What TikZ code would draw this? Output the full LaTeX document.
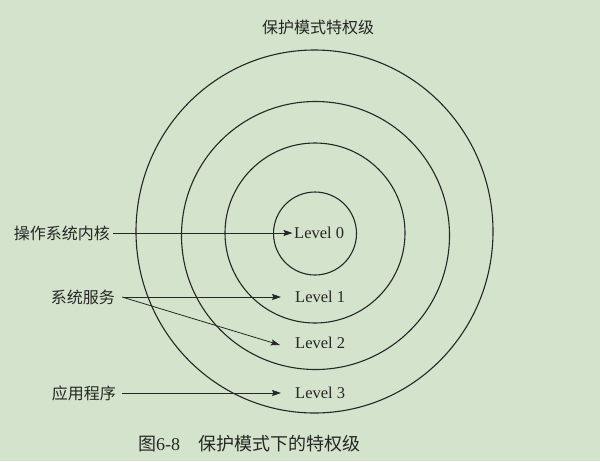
\documentclass[tikz,border=0pt]{standalone}
\usepackage{fontspec}
\setmainfont{Liberation Serif}
\newfontfamily\cjk{Noto Sans CJK SC}
\usepackage{tikz}
\usetikzlibrary{arrows.meta}

\definecolor{fundo}{RGB}{212,228,204}
\definecolor{tinta}{RGB}{38,38,38}

\begin{document}
\begin{tikzpicture}[x=1pt, y=-1pt,
	anel/.style={draw=tinta, line width=1.1pt},
	seta/.style={draw=tinta, line width=0.8pt, -{Stealth[length=9pt, width=6pt, inset=1.5pt]}},
	rotulo/.style={text=tinta, inner sep=0pt, font=\cjk\fontsize{16}{18}\selectfont},
	nivel/.style={text=tinta, inner sep=0pt, anchor=west, font=\fontsize{16.5}{18}\selectfont}]
	
	% Fundo da pagina
	\fill[fundo] (0,0) rectangle (600,461);
	\useasboundingbox (0,0) rectangle (600,461);
	
	% Aneis dos niveis de privilegio
	\draw[anel] (315,233.5) circle[radius=41.5];
	\draw[anel] (315,233) circle[radius=90];
	\draw[anel] (315.5,235.5) circle[radius=134];
	\draw[anel] (314.5,231.5) ellipse[x radius=178.5, y radius=181.5];
	
	% Titulo
	\node[rotulo] (titulo) at (318,27) {保护模式特权级};
	
	% Niveis
	\node[nivel] (lv0) at (294,233) {Level 0};
	\node[nivel] (lv1) at (295,297) {Level 1};
	\node[nivel] (lv2) at (295,343) {Level 2};
	\node[nivel] (lv3) at (295,393) {Level 3};
	
	% Rotulos a esquerda
	\node[rotulo, anchor=east] (kernel) at (110,233) {操作系统内核};
	\node[rotulo, anchor=east] (servico) at (115,297) {系统服务};
	\node[rotulo, anchor=east] (app) at (116,393) {应用程序};
	
	% Setas
	\draw[seta] ([xshift=3]kernel.east) -- ([xshift=-1.5]lv0.west);
	\draw[seta] ([xshift=9]servico.east) -- ([xshift=-14]lv1.west);
	\draw[seta] ([xshift=7]servico.east) -- ([xshift=-15,yshift=-2]lv2.west);
	\draw[seta] ([xshift=6]app.east) -- ([xshift=-14]lv3.west);
	
	% Legenda da figura
	\node[text=tinta, inner sep=0pt, anchor=west, font=\fontsize{18}{20}\selectfont] (legenda) at (138,444)
		{{\cjk 图}6-8\quad{\cjk 保护模式下的特权级}};
\end{tikzpicture}
\end{document}
